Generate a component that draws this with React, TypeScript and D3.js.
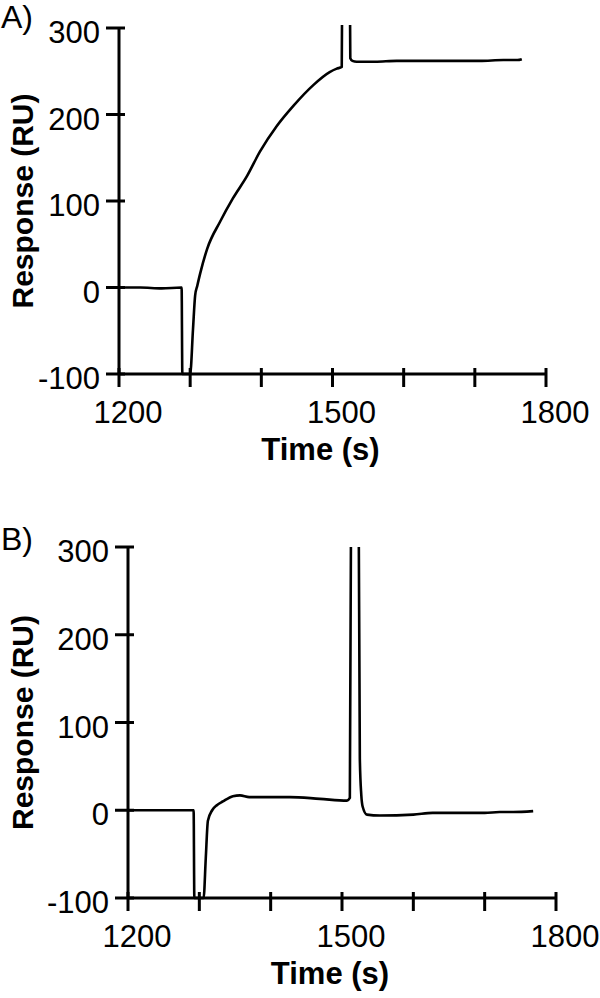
import React from "react";
import * as d3 from "d3";

// Panel A: time (s) and response (RU)
const timeA = [1200, 1230, 1260, 1288, 1289, 1300, 1304, 1307, 1310, 1314, 1324, 1342, 1360, 1380, 1398, 1422, 1445, 1473, 1496, 1506, 1513, 1514, 1519, 1524, 1525, 1528, 1534, 1560, 1590, 1613, 1650, 1680, 1707, 1740, 1760, 1766];
const respA = [0, 0, -1, 0, -100, -100, -48, -9, 2, 16, 45, 76, 103, 129, 157, 187, 210, 234, 249, 253, 255, 400, 420, 400, 265, 262, 261, 261, 262, 262, 262, 262, 262, 263, 263, 264];

// Panel B
const timeB = [1200, 1240, 1270, 1292, 1293, 1306, 1309, 1312, 1318, 1325, 1333, 1347, 1357, 1370, 1389, 1427, 1469, 1507, 1511, 1513, 1518, 1523, 1525, 1527, 1529, 1535, 1553, 1600, 1627, 1650, 1700, 1721, 1740, 1768];
const respB = [0, 0, 0, 0, -100, -100, -55, -12, 0, 6, 10, 16, 17, 15, 15, 15, 13, 11, 14, 400, 420, 400, 59, 18, 4, -5, -6, -5, -3, -3, -3, -2, -2, -1];

const xTicks = [1200, 1250, 1300, 1350, 1400, 1450, 1500, 1550, 1600, 1650, 1700, 1750, 1800];
const xTickLabels = [1200, 1500, 1800];
const yTicks = [-100, 0, 100, 200, 300];

const FONT = "'Liberation Sans', Arial, Helvetica, sans-serif";

type PanelProps = {
  label: string;
  times: number[];
  values: number[];
  x0: number; x1: number; yTop: number; yBot: number;
  clipMax: number;
  labelY: number;
  id: string;
};

function Panel({ label, times, values, x0, x1, yTop, yBot, clipMax, labelY, id }: PanelProps) {
  const x = d3.scaleLinear().domain([1200, 1800]).range([x0, x1]);
  const y = d3.scaleLinear().domain([-100, 300]).range([yBot, yTop]);
  const pts = times.map((t, i) => [t, values[i]] as [number, number]);
  const line = d3.line<[number, number]>().x(d => x(d[0])).y(d => y(d[1])).curve(d3.curveMonotoneX);
  const cx = (x0 + x1) / 2;
  const cy = (yTop + yBot) / 2;
  return (
    <g>
      <defs>
        <clipPath id={id}>
          <rect x={x0} y={y(clipMax)} width={x1 - x0 + 10} height={yBot - y(clipMax) + 2} />
        </clipPath>
      </defs>
      <text x={1} y={labelY} fontFamily={FONT} fontSize={32} fill="#000">{label}</text>
      <text transform={`translate(33,${cy}) rotate(-90)`} textAnchor="middle" fontFamily={FONT} fontWeight="bold" fontSize={30} fill="#000">Response (RU)</text>
      {/* y axis */}
      <line x1={x0} x2={x0} y1={yTop} y2={yBot} stroke="#000" strokeWidth={3} />
      {yTicks.map(v => (
        <g key={v}>
          <line x1={x0 - 13} x2={x0 + 6} y1={y(v)} y2={y(v)} stroke="#000" strokeWidth={3} />
          <text x={x0 - 19} y={y(v) + 15} textAnchor="end" fontFamily={FONT} fontSize={31} fill="#000">{v}</text>
        </g>
      ))}
      {/* x axis */}
      <line x1={x0} x2={x1} y1={yBot} y2={yBot} stroke="#000" strokeWidth={3} />
      {xTicks.filter((_, i) => i % 2 === 0).map(v => (
        <line key={v} x1={x(v)} x2={x(v)} y1={yBot - 6} y2={yBot + 13} stroke="#000" strokeWidth={3} />
      ))}
      {xTickLabels.map(v => (
        <text key={v} x={x(v) + 9} y={yBot + 49} textAnchor="middle" fontFamily={FONT} fontSize={31} fill="#000">{v}</text>
      ))}
      <text x={cx - 12} y={yBot + 86} textAnchor="middle" fontFamily={FONT} fontWeight="bold" fontSize={31} fill="#000">Time (s)</text>
      <path d={line(pts) || ""} fill="none" stroke="#000" strokeWidth={2.6} strokeLinejoin="round" clipPath={`url(#${id})`} />
    </g>
  );
}

export default function App() {
  return (
    <svg width={600} height={998} style={{ position: "absolute", left: 0, top: 0, background: "#fff" }}>
      <rect width={600} height={998} fill="#fff" />
      <Panel label="A)" times={timeA} values={respA} x0={119} x1={546} yTop={28} yBot={374} clipMax={303.5} labelY={28} id="clipA" />
      <Panel label="B)" times={timeB} values={respB} x0={128} x1={556} yTop={547} yBot={898} clipMax={300} labelY={550} id="clipB" />
    </svg>
  );
}
